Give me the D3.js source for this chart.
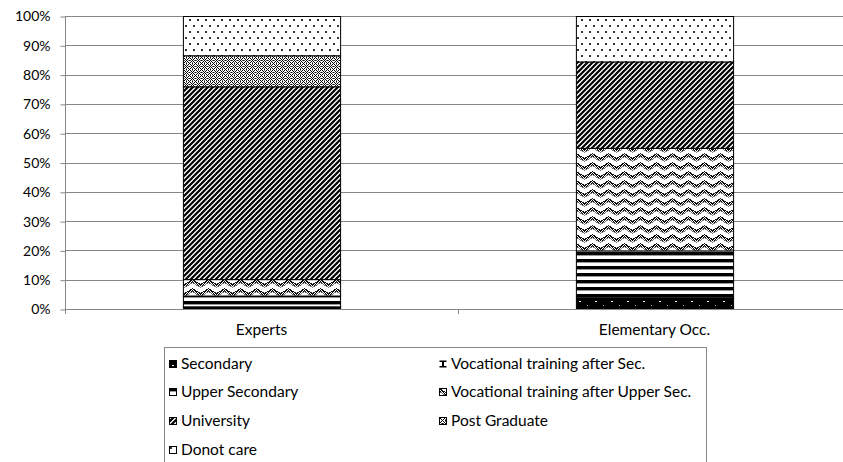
<!DOCTYPE html>
<html>
<head>
<meta charset="utf-8">
<script src="https://cdn.jsdelivr.net/npm/d3@7"></script>
<style>
  body { margin: 0; background: #fff; }
  text { font-family: Lato, "Open Sans", "Noto Sans", sans-serif; fill: #000; }
</style>
</head>
<body>
<svg id="chart" width="843" height="462"></svg>
<script>
// Share of answers per education level (percent of each group)
const categories = ["Experts", "Elementary Occ."];
const seriesNames = [
  "Secondary",
  "Vocational training after Sec.",
  "Upper Secondary",
  "Vocational training after Upper Sec.",
  "University",
  "Post Graduate",
  "Donot care"
];
const secondary        = [0.9, 4.0];
const vocAfterSec      = [0.0, 0.0];
const upperSecondary   = [3.7, 16.0];
const vocAfterUpperSec = [5.6, 35.0];
const university       = [65.8, 29.5];
const postGraduate     = [10.6, 0.0];
const donotCare        = [13.4, 15.5];
const yTicks = [0, 10, 20, 30, 40, 50, 60, 70, 80, 90, 100];

const seriesValues = [secondary, vocAfterSec, upperSecondary, vocAfterUpperSec,
                      university, postGraduate, donotCare];
const rows = categories.map((c, i) => {
  const r = { category: c };
  seriesNames.forEach((s, j) => { r[s] = seriesValues[j][i]; });
  return r;
});

const svg = d3.select("#chart");
const defs = svg.append("defs");

// ---- pattern fills ----
function pattern(id, w, h, draw) {
  const p = defs.append("pattern")
    .attr("id", id)
    .attr("patternUnits", "userSpaceOnUse")
    .attr("width", w).attr("height", h);
  draw(p);
}
function px(p, x, y, w, h, c) {
  p.append("rect").attr("x", x).attr("y", y).attr("width", w).attr("height", h)
    .attr("fill", c).attr("shape-rendering", "crispEdges");
}
// Secondary: black with sparse white dashes
pattern("pSec", 16, 8, p => {
  px(p, 0, 0, 16, 8, "#000");
  px(p, 3, 5, 2, 1, "#fff");
  px(p, 11, 1, 1, 1, "#bbb");
});
// Vocational after Sec.: bars with a centre stem
pattern("pVocSec", 8, 8, p => {
  px(p, 0, 0, 8, 8, "#fff");
  px(p, 0, 0, 8, 2, "#000");
  px(p, 0, 6, 8, 2, "#000");
  px(p, 3, 0, 2, 8, "#000");
});
// Upper Secondary: horizontal stripes
pattern("pUpper", 8, 7, p => {
  px(p, 0, 0, 8, 7, "#fff");
  px(p, 0, 0, 8, 3, "#000");
  px(p, 0, 3, 8, 1, "#999");
});
// Vocational after Upper Sec.: dithered zigzag
pattern("pVocUpper", 16, 9, p => {
  px(p, 0, 0, 16, 9, "#fff");
  for (let x = 0; x < 16; x++) {
    const t = x < 8 ? x : 16 - x;
    const y0 = Math.round(t * 5 / 8);
    for (let k = 0; k < 4; k++) {
      const yy = (y0 + k) % 9;
      if (k === 0) px(p, x, yy, 1, 1, "#111");
      else if (k === 3) px(p, x, yy, 1, 1, "#777");
      else if ((x + yy) % 2 === 0) px(p, x, yy, 1, 1, "#000");
    }
  }
});
// University: dark upward diagonal
pattern("pUni", 5, 5, p => {
  px(p, 0, 0, 5, 5, "#fff");
  p.append("path").attr("d", "M-1,6 L6,-1 M-3,3 L3,-3 M2,8 L8,2")
    .attr("stroke", "#000").attr("stroke-width", 2.2);
});
// Post Graduate: dotted diamond lattice
pattern("pPost", 6, 6, p => {
  px(p, 0, 0, 6, 6, "#fff");
  [[0,0],[1,1],[2,2],[4,4],[5,5],[4,2],[2,4],[5,1],[1,5],[3,3],[3,0],[0,3]]
    .forEach(([x, y]) => px(p, x, y, 1, 1, "#000"));
  [[2,0],[0,2],[4,0],[0,4]].forEach(([x, y]) => px(p, x, y, 1, 1, "#666"));
});
// Donot care: sparse dots
pattern("pDont", 8, 12, p => {
  px(p, 0, 0, 8, 12, "#fff");
  px(p, 1, 1, 2, 2, "#333");
  px(p, 5, 7, 2, 2, "#333");
});
const fills = ["pSec", "pVocSec", "pUpper", "pVocUpper", "pUni", "pPost", "pDont"];

// ---- scales ----
const plotLeft = 65, plotRight = 851, plotTop = 16, plotBottom = 309;
const x = d3.scaleBand().domain(categories).range([plotLeft, plotRight]).padding(0);
const y = d3.scaleLinear().domain([0, 100]).range([plotBottom, plotTop]);
const barW = x.bandwidth() * 0.4;
const gridColor = "#868686";

// horizontal gridlines
svg.append("g").selectAll("line").data(yTicks.filter(t => t > 0)).join("line")
  .attr("x1", plotLeft).attr("x2", plotRight)
  .attr("y1", d => Math.round(y(d)) + 0.5).attr("y2", d => Math.round(y(d)) + 0.5)
  .attr("stroke", gridColor).attr("stroke-width", 1);

// y axis
const yAxis = d3.axisLeft(y).tickValues(yTicks).tickFormat(d => d + "%")
  .tickSize(5).tickPadding(10);
const gy = svg.append("g").attr("transform", `translate(${plotLeft + 0.5},0.5)`).call(yAxis);
gy.select(".domain").attr("stroke", gridColor).attr("d", `M0,${plotTop}V${plotBottom}`);
gy.selectAll(".tick line").attr("stroke", gridColor);
gy.selectAll(".tick text").attr("font-size", 14).attr("font-family", "Lato, sans-serif").attr("fill", "#000");

// bars
const stack = d3.stack().keys(seriesNames);
const stacked = stack(rows);
svg.append("g").selectAll("g").data(stacked).join("g")
  .attr("fill", (d, i) => `url(#${fills[i]})`)
  .selectAll("rect").data(d => d.filter(s => s[1] - s[0] > 0)).join("rect")
  .attr("x", d => x(d.data.category) + (x.bandwidth() - barW) / 2 + 0.5)
  .attr("width", barW)
  .attr("y", d => y(d[1]) + 0.5)
  .attr("height", d => y(d[0]) - y(d[1]))
  .attr("stroke", "#000").attr("stroke-width", 1);

// x axis
const xAxis = d3.axisBottom(x).tickSize(0).tickPadding(14);
const gx = svg.append("g").attr("transform", `translate(0,${plotBottom + 0.5})`).call(xAxis);
gx.select(".domain").attr("stroke", gridColor).attr("d", `M${plotLeft},0H${plotRight}`);
gx.selectAll(".tick text").attr("font-size", 15.5).attr("font-family", "Lato, sans-serif").attr("fill", "#000");
svg.append("g").selectAll("line").data([plotLeft, x(categories[1]), plotRight]).join("line")
  .attr("x1", d => Math.round(d) + 0.5).attr("x2", d => Math.round(d) + 0.5)
  .attr("y1", plotBottom).attr("y2", plotBottom + 5)
  .attr("stroke", gridColor);

// legend
const legend = svg.append("g");
legend.append("rect").attr("x", 164.5).attr("y", 347.5).attr("width", 542).attr("height", 130)
  .attr("fill", "none").attr("stroke", gridColor);
const colX = [169, 439], rowY = [364, 392, 421, 450];
seriesNames.forEach((s, i) => {
  const g = legend.append("g")
    .attr("transform", `translate(${colX[i % 2]},${rowY[Math.floor(i / 2)] - 4})`);
  g.append("rect").attr("x", 0.5).attr("y", 0.5).attr("width", 7).attr("height", 7)
    .attr("fill", `url(#${fills[i]})`).attr("stroke", i === 1 ? "none" : "#000");
  g.append("text").attr("x", 12).attr("y", 4).attr("dy", "0.35em")
    .attr("font-size", 15.5).text(s);
});
</script>
</body>
</html>
